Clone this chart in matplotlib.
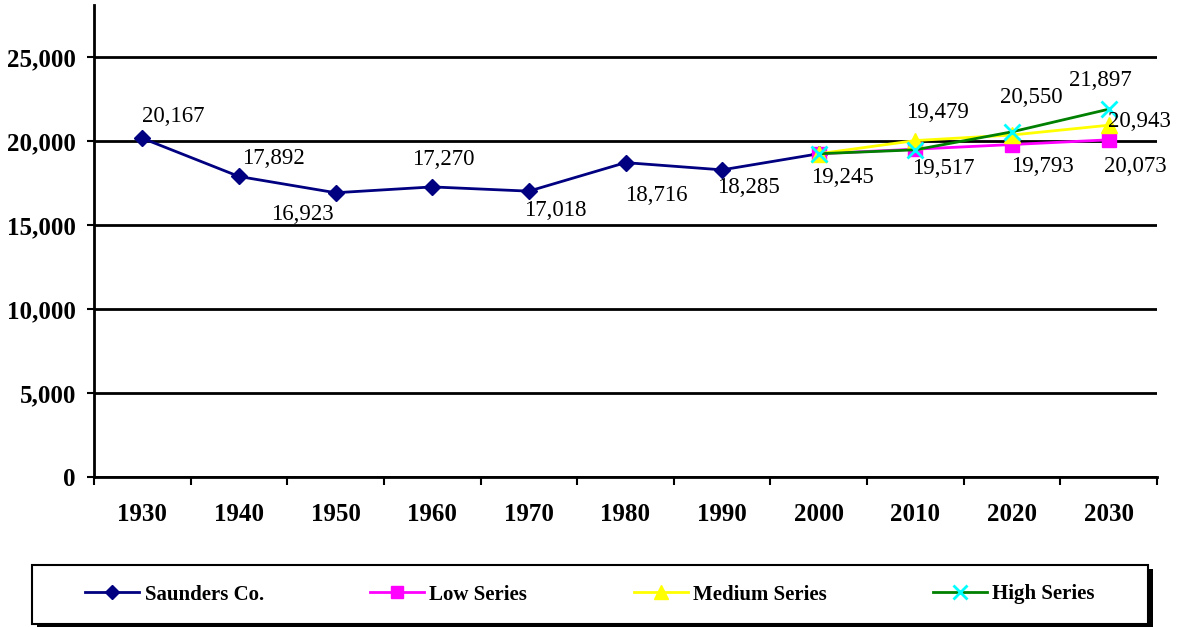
import matplotlib.pyplot as plt
from matplotlib.patches import Rectangle
from matplotlib.ticker import FuncFormatter

years = [1930, 1940, 1950, 1960, 1970, 1980, 1990, 2000, 2010, 2020, 2030]
saunders = [20167, 17892, 16923, 17270, 17018, 18716, 18285, 19245]
low_series = [19245, 19517, 19793, 20073]
medium_series = [19245, 20030, 20360, 20943]
high_series = [19245, 19479, 20550, 21897]

# labels shown on the chart: (year index, value, text)
labels = [
    (0, 20167, "20,167"), (1, 17892, "17,892"), (2, 16923, "16,923"),
    (3, 17270, "17,270"), (4, 17018, "17,018"), (5, 18716, "18,716"),
    (6, 18285, "18,285"), (7, 19245, "19,245"), (8, 19479, "19,479"),
    (8, 19517, "19,517"), (9, 20550, "20,550"), (9, 19793, "19,793"),
    (10, 21897, "21,897"), (10, 20943, "20,943"), (10, 20073, "20,073"),
]
# label offsets in points (position only)
offsets = [(22, 16), (25, 13), (-24, -16), (8, 20), (19, -14), (22, -24),
           (19, -13), (17, -17), (16, 27), (20, -14), (14, 25), (22, -16),
           (-6, 21), (22, 3), (19, -19)]

plt.rcParams['font.family'] = ['Liberation Serif', 'DejaVu Serif']

W, H = 1188, 627
fig = plt.figure(figsize=(W / 100, H / 100), dpi=100)
ax = fig.add_axes([94 / W, 1 - 477 / H, (1157 - 94) / W, (477 - 5) / H])

x_all = list(range(len(years)))
ax.plot(x_all[:8], saunders, color='#000080', lw=2, marker='D', ms=8,
        label='Saunders Co.', zorder=3)
ax.plot(x_all[7:], low_series, color='#FF00FF', lw=2, marker='s', ms=10,
        label='Low Series', zorder=4)
ax.plot(x_all[7:], medium_series, color='#FFFF00', lw=2, marker='^', ms=11,
        label='Medium Series', zorder=5)
ax.plot(x_all[7:], high_series, color='#008000', lw=2, marker='x', ms=11,
        mec='#00FFFF', mew=2, label='High Series', zorder=6)

for (i, v, t), (dx, dy) in zip(labels, offsets):
    ax.annotate(t, (i, v), xytext=(dx, dy), textcoords='offset points',
                ha='center', va='center', fontsize=16.5, zorder=7)

ax.set_xlim(-0.5, 10.5)
ax.set_ylim(0, 28100)
ax.set_yticks(range(0, 25001, 5000))
ax.yaxis.set_major_formatter(FuncFormatter(lambda v, p: f"{int(v):,}"))
ax.set_xticks(x_all)
ax.set_xticklabels([str(y) for y in years])
ax.set_xticks([i + 0.5 for i in range(-1, 11)], minor=True)
ax.tick_params(axis='x', which='major', length=0, pad=19)
ax.tick_params(axis='x', which='minor', length=6, width=1.5, direction='out')
ax.tick_params(axis='y', length=5, width=1.5, direction='out', pad=8)
for lab in ax.get_xticklabels() + ax.get_yticklabels():
    lab.set_fontweight('bold')
    lab.set_fontsize(18)

ax.grid(axis='y', color='black', lw=2)
ax.set_axisbelow(True)
for s in ['top', 'right']:
    ax.spines[s].set_visible(False)
ax.spines['left'].set_linewidth(2)
ax.spines['bottom'].set_linewidth(2)

# legend box with a black drop shadow
x0, x1, y0, y1 = 32, 1148, 565, 624
fig.patches.append(Rectangle(((x0 + 5) / W, 1 - (y1 + 4) / H), (x1 - x0) / W, (y1 - y0) / H,
                             transform=fig.transFigure, facecolor='black', edgecolor='none'))
fig.patches.append(Rectangle((x0 / W, 1 - y1 / H), (x1 - x0) / W, (y1 - y0) / H,
                             transform=fig.transFigure, facecolor='white',
                             edgecolor='black', lw=1.5))
fig.legend(loc='center', bbox_to_anchor=((x0 + x1) / 2 / W, 1 - (y0 + y1) / 2 / H),
           ncol=4, frameon=False, prop={'weight': 'bold', 'size': 15},
           handlelength=2.6, handletextpad=0.25, columnspacing=5.1, markerscale=0.9)

fig.savefig('out.png', dpi=100)
